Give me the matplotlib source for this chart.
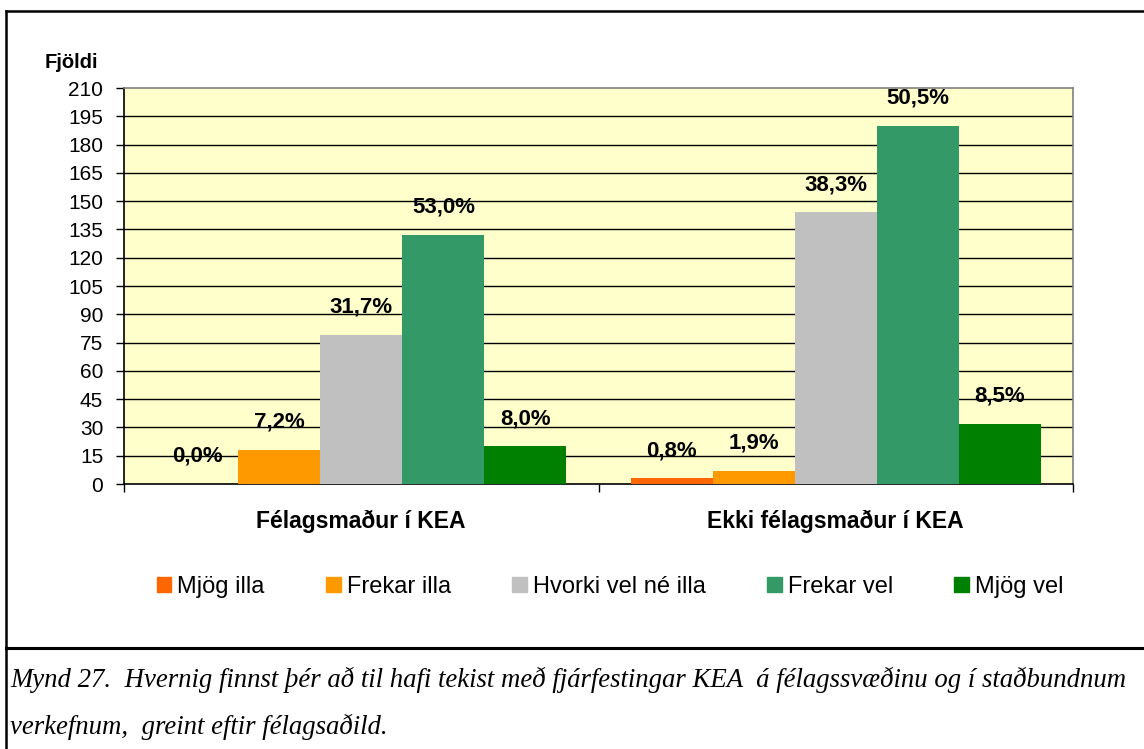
import matplotlib
matplotlib.use("Agg")
import matplotlib.pyplot as plt
from matplotlib.lines import Line2D
import numpy as np

categories = ["Félagsmaður í KEA", "Ekki félagsmaður í KEA"]
series = ["Mjög illa", "Frekar illa", "Hvorki vel né illa", "Frekar vel", "Mjög vel"]
colors = ["#FF6600", "#FF9900", "#C0C0C0", "#339966", "#008000"]
values = {
    "Mjög illa": [0, 3],
    "Frekar illa": [18, 7],
    "Hvorki vel né illa": [79, 144],
    "Frekar vel": [132, 190],
    "Mjög vel": [20, 32],
}
pct_labels = {
    "Mjög illa": ["0,0%", "0,8%"],
    "Frekar illa": ["7,2%", "1,9%"],
    "Hvorki vel né illa": ["31,7%", "38,3%"],
    "Frekar vel": ["53,0%", "50,5%"],
    "Mjög vel": ["8,0%", "8,5%"],
}
yticks = list(range(0, 211, 15))
caption1 = "Mynd 27.  Hvernig finnst þér að til hafi tekist með fjárfestingar KEA  á félagssvæðinu og í staðbundnum"
caption2 = "verkefnum,  greint eftir félagsaðild."

W, H = 1144, 749
fig = plt.figure(figsize=(W / 100, H / 100), dpi=100)
fig.patch.set_facecolor("white")

def fx(px):
    return px / W

def fy(py):
    return 1 - py / H

ax = fig.add_axes([fx(124), fy(484), fx(1073) - fx(124), fy(88) - fy(484)])
ax.set_facecolor("#FFFFCC")

bw = 0.173
x = np.arange(len(categories))
for i, s in enumerate(series):
    xs = x + (i - 2) * bw
    ax.bar(xs, values[s], width=bw, color=colors[i], zorder=3, label=s, linewidth=0)
    for xi, v, lab in zip(xs, values[s], pct_labels[s]):
        ax.annotate(lab, (xi, v), xytext=(0, 20), textcoords="offset points",
                    ha="center", va="center", fontsize=16, fontweight="bold",
                    family="Liberation Sans", zorder=5)

for t in yticks[1:-1]:
    ax.axhline(t, color="black", lw=1, zorder=1)

ax.set_xlim(-0.5, 1.5)
ax.set_ylim(0, 210)
ax.set_yticks(yticks)
ax.set_yticklabels([str(t) for t in yticks], fontsize=15, family="Liberation Sans")
ax.tick_params(axis="y", direction="out", length=6, width=1, pad=9)
ax.set_xticks([-0.5, 0.5, 1.5])
ax.set_xticklabels([])
ax.tick_params(axis="x", direction="out", length=6, width=1)
for xi, c in zip(x, categories):
    ax.text(xi, -0.095, c, transform=ax.get_xaxis_transform(), ha="center", va="center",
            fontsize=16.5, fontweight="bold", family="Liberation Sans")

ax.spines["left"].set_color("black")
ax.spines["bottom"].set_color("black")
ax.spines["top"].set_color("#808080")
ax.spines["right"].set_color("#808080")
for sp in ax.spines.values():
    sp.set_linewidth(1.2)

fig.text(fx(45), fy(62), "Fjöldi", fontsize=14.5, fontweight="bold",
         family="Liberation Sans", ha="left", va="center")

handles = [plt.Rectangle((0, 0), 1, 1, color=c) for c in colors]
leg = fig.legend(handles, series, loc="center", bbox_to_anchor=(fx(610), fy(587)),
                 ncol=5, frameon=False, prop={"family": "Liberation Sans", "size": 17},
                 handlelength=0.62, handleheight=0.62, handletextpad=0.25, columnspacing=2.6)

# outer frame
def hline(y, x0, x1, lw):
    fig.add_artist(Line2D([fx(x0), fx(x1)], [fy(y), fy(y)], color="black", lw=lw))

def vline(xp, y0, y1, lw):
    fig.add_artist(Line2D([fx(xp), fx(xp)], [fy(y0), fy(y1)], color="black", lw=lw))

hline(11, 6, W, 1.8)
hline(648, 6, W, 2.2)
vline(6, 11, H, 1.8)

fig.text(fx(10), fy(680), caption1, fontsize=19.3, style="italic",
         family="Liberation Serif", ha="left", va="center")
fig.text(fx(10), fy(727), caption2, fontsize=19.3, style="italic",
         family="Liberation Serif", ha="left", va="center")

fig.savefig("out.png", dpi=100)
